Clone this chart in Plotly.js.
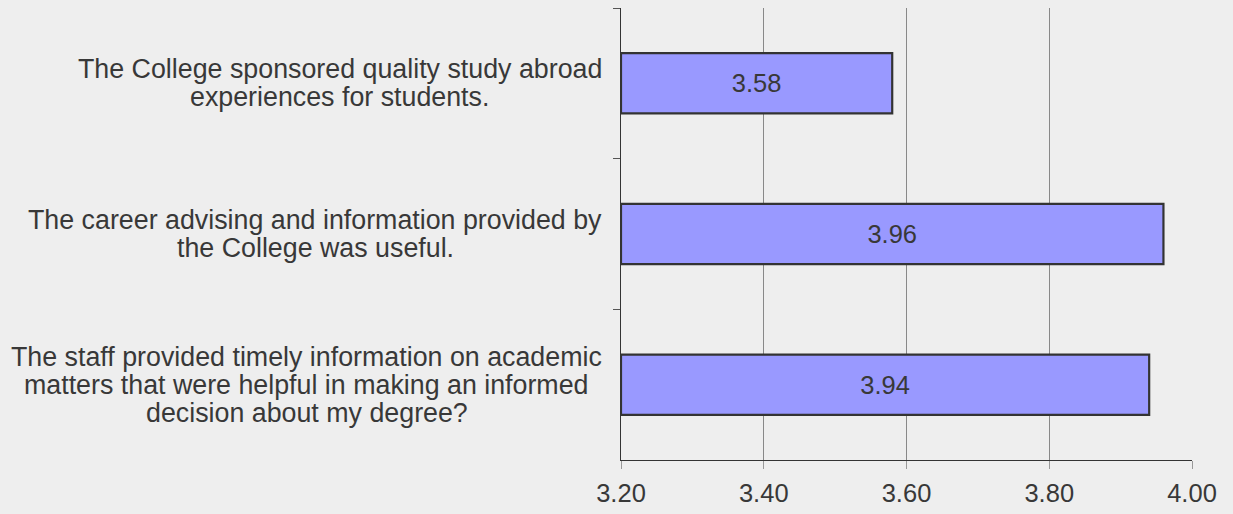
<!DOCTYPE html>
<html>
<head>
<meta charset="utf-8">
<script src="https://cdn.plot.ly/plotly-3.0.1.min.js"></script>
<style>html,body{margin:0;padding:0;background:#eeeeee;}#chart{width:1233px;height:514px;}</style>
</head>
<body>
<div id="chart"></div>
<script>
var categoryLines = [
  ["The College sponsored quality study abroad", "experiences for students."],
  ["The career advising and information provided by", "the College was useful."],
  ["The staff provided timely information on academic", "matters that were helpful in making an informed", "decision about my degree?"]
];
var values = [3.58, 3.96, 3.94];
var tickVals = [3.2, 3.4, 3.6, 3.8, 4.0];
var tickText = ["3.20", "3.40", "3.60", "3.80", "4.00"];

var FONT = "'Liberation Sans', Arial, sans-serif";
var FS = 25.5;
var LFS = 26.8;
var TXT = "#383838";
var W = 1233, H = 514;
var M = {l: 621, r: 41, t: 8, b: 54};
var plotW = W - M.l - M.r;
var labelRight = 602;   // px, right edge of the longest label line
var lineGap = 28;       // px between label lines

var keys = categoryLines.map(function(c, i){ return "c" + i; });

var cv = document.createElement("canvas").getContext("2d");
cv.font = LFS + "px 'Liberation Sans'";

var annotations = [];
categoryLines.forEach(function(lines, i){
  var maxW = Math.max.apply(null, lines.map(function(s){ return cv.measureText(s).width; }));
  var cx = labelRight - maxW / 2;
  var n = lines.length;
  lines.forEach(function(s, j){
    annotations.push({
      xref: "paper", yref: "y", x: (cx - M.l) / plotW, y: keys[i],
      xanchor: "center", yanchor: "middle",
      yshift: -((j - (n - 1) / 2) * lineGap),
      text: s, showarrow: false,
      font: {family: FONT, size: LFS, color: TXT}
    });
  });
});

var trace = {
  type: "bar",
  orientation: "h",
  y: keys,
  x: values.map(function(v){ return v - 3.2; }),
  base: 3.2,
  width: 0.4,
  marker: {color: "#9999ff", line: {color: "#333333", width: 2.2}},
  text: values.map(function(v){ return v.toFixed(2); }),
  textposition: "inside",
  insidetextanchor: "middle",
  textfont: {family: FONT, size: FS, color: TXT},
  hoverinfo: "skip"
};

var layout = {
  width: W, height: H,
  margin: M,
  paper_bgcolor: "#eeeeee",
  plot_bgcolor: "#eeeeee",
  showlegend: false,
  xaxis: {
    range: [3.2, 4.0],
    tickvals: tickVals, ticktext: tickText,
    ticks: "outside", ticklen: 8, tickcolor: "#999999", tickwidth: 1,
    ticklabelstandoff: 2,
    showgrid: true, gridcolor: "#888888", gridwidth: 1,
    showline: true, linecolor: "#333333", linewidth: 1,
    zeroline: false,
    tickfont: {family: FONT, size: FS, color: TXT}
  },
  yaxis: {
    type: "category",
    categoryorder: "array", categoryarray: keys,
    autorange: false,
    range: [2.5, -0.5],
    showticklabels: false,
    ticks: "outside", tickson: "boundaries", ticklen: 7, tickcolor: "#555555",
    showgrid: false,
    showline: true, linecolor: "#333333", linewidth: 1,
    zeroline: false
  },
  annotations: annotations
};

Plotly.newPlot("chart", [trace], layout, {displayModeBar: false, staticPlot: true});
</script>
</body>
</html>
